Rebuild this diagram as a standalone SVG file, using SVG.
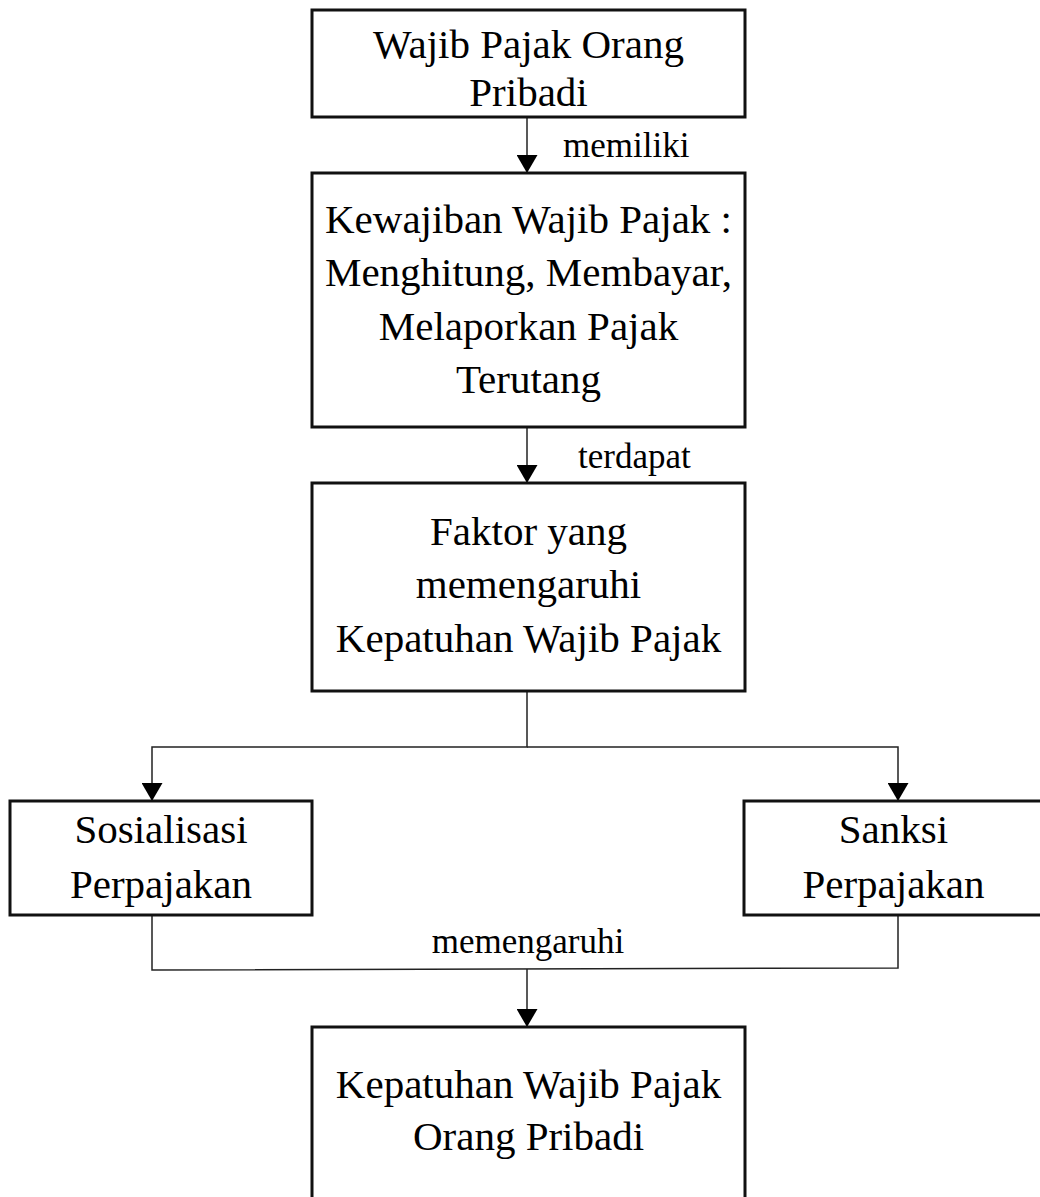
<svg xmlns="http://www.w3.org/2000/svg" width="1040" height="1197" viewBox="0 0 1040 1197">
<style>
.box{fill:#fff;stroke:#111;stroke-width:3}
.t{font-family:"Liberation Serif","Times New Roman",serif;font-size:41px;fill:#000;text-anchor:middle}
.lbl{font-family:"Liberation Serif","Times New Roman",serif;font-size:35px;fill:#000}
.ln{fill:none;stroke:#222;stroke-width:1.5}
</style>
<defs>
<marker id="ah" markerWidth="18" markerHeight="21" refX="18" refY="10.5" orient="auto" markerUnits="userSpaceOnUse">
<path d="M0,0 L18,10.5 L0,21 Z" fill="#000"/>
</marker>
</defs>
<rect width="1040" height="1197" fill="#fff"/>
<g id="connectors">
<line class="ln" x1="527" y1="118" x2="527" y2="173" marker-end="url(#ah)"/>
<line class="ln" x1="527" y1="428" x2="527" y2="483" marker-end="url(#ah)"/>
<polyline class="ln" points="527,692 527,747 152,747 152,801" marker-end="url(#ah)"/>
<polyline class="ln" points="527,747 898,747 898,801" marker-end="url(#ah)"/>
<polyline class="ln" points="152,916 152,970 898,968 898,916"/>
<line class="ln" x1="527" y1="969" x2="527" y2="1027" marker-end="url(#ah)"/>
<text class="lbl" x="563" y="157">memiliki</text>
<text class="lbl" x="578" y="468">terdapat</text>
<text class="lbl" x="528" y="953" text-anchor="middle">memengaruhi</text>
</g>
<g id="n1">
<rect class="box" x="312" y="10" width="433" height="107"/>
<text class="t" x="528.5" y="58">Wajib Pajak Orang</text>
<text class="t" x="528.5" y="106">Pribadi</text>
</g>
<g id="n2">
<rect class="box" x="312" y="173" width="433" height="254"/>
<text class="t" x="528.5" y="233">Kewajiban Wajib Pajak :</text>
<text class="t" x="528.5" y="286">Menghitung, Membayar,</text>
<text class="t" x="528.5" y="340">Melaporkan Pajak</text>
<text class="t" x="528.5" y="393">Terutang</text>
</g>
<g id="n3">
<rect class="box" x="312" y="483" width="433" height="208"/>
<text class="t" x="528.5" y="545">Faktor yang</text>
<text class="t" x="528.5" y="598">memengaruhi</text>
<text class="t" x="528.5" y="652">Kepatuhan Wajib Pajak</text>
</g>
<g id="n4">
<rect class="box" x="10" y="801" width="302" height="114"/>
<text class="t" x="161" y="843">Sosialisasi</text>
<text class="t" x="161" y="898">Perpajakan</text>
</g>
<g id="n5">
<rect class="box" x="744" y="801" width="299" height="114"/>
<text class="t" x="893.5" y="843">Sanksi</text>
<text class="t" x="893.5" y="898">Perpajakan</text>
</g>
<g id="n6">
<rect class="box" x="312" y="1027" width="433" height="190"/>
<text class="t" x="528.5" y="1098">Kepatuhan Wajib Pajak</text>
<text class="t" x="528.5" y="1150">Orang Pribadi</text>
</g>
</svg>
